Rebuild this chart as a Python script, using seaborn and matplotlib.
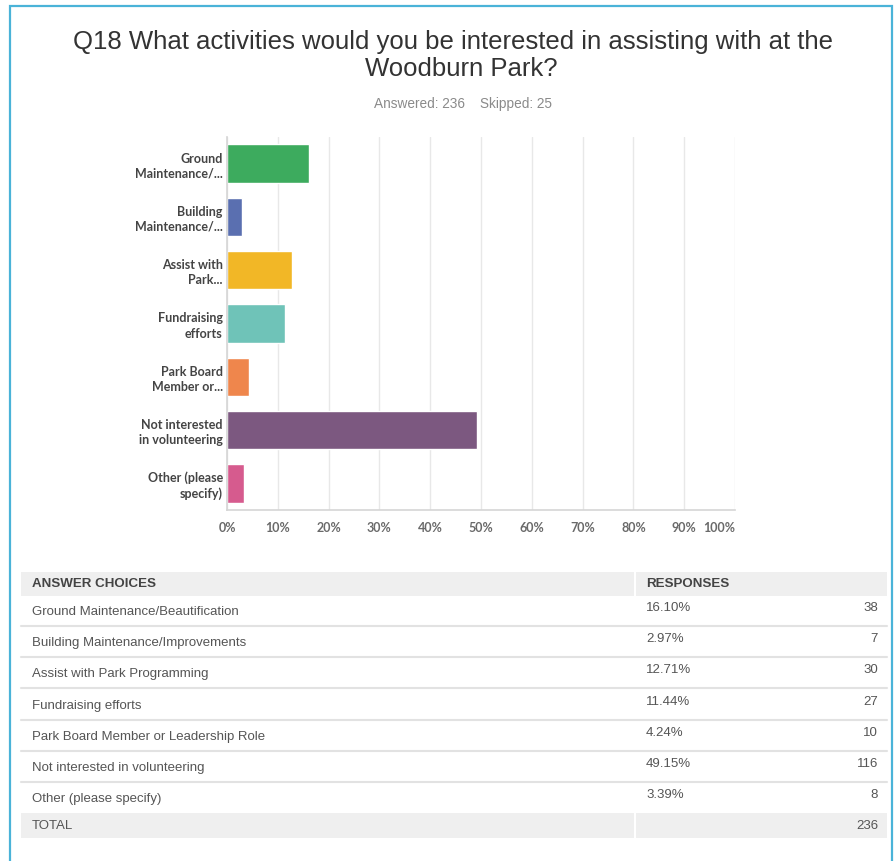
import matplotlib
matplotlib.use("Agg")
import matplotlib.pyplot as plt
import seaborn as sns
import pandas as pd
from matplotlib.patches import Rectangle
from matplotlib.lines import Line2D

# ---------------- data ----------------
categories = ["Ground\nMaintenance/...", "Building\nMaintenance/...", "Assist with\nPark...",
              "Fundraising\nefforts", "Park Board\nMember or...", "Not interested\nin volunteering",
              "Other (please\nspecify)"]
choices = ["Ground Maintenance/Beautification", "Building Maintenance/Improvements",
           "Assist with Park Programming", "Fundraising efforts",
           "Park Board Member or Leadership Role", "Not interested in volunteering",
           "Other (please specify)"]
percents = [16.10, 2.97, 12.71, 11.44, 4.24, 49.15, 3.39]
counts = [38, 7, 30, 27, 10, 116, 8]
total = 236
answered = 236
skipped = 25
colors = ["#3dab5e", "#5a6fb0", "#f2b726", "#6fc3b8", "#ef864c", "#7c5880", "#d65b8e"]
xticks = [0, 10, 20, 30, 40, 50, 60, 70, 80, 90, 100]
title_lines = ["Q18 What activities would you be interested in assisting with at the",
               "Woodburn Park?"]

# ---------------- figure ----------------
sns.set_theme(style="white")
plt.rcParams["font.family"] = ["Liberation Sans", "DejaVu Sans"]

W, H = 896, 861
fig = plt.figure(figsize=(W / 100, H / 100), dpi=100)
fig.patch.set_facecolor("white")

# overlay axes in pixel coordinates
ov = fig.add_axes([0, 0, 1, 1])
ov.set_xlim(0, W)
ov.set_ylim(H, 0)
ov.axis("off")
ov.patch.set_alpha(0)

def fx(x):
    return x / W

def fy(y):
    return 1 - y / H

# blue frame
ov.add_line(Line2D([10, 10, 892, 892], [H, 6, 6, H], color="#4ab3d8", lw=1.6,
                   solid_joinstyle="miter"))

# title
ov.text(453, 49, title_lines[0], ha="center", va="baseline", fontsize=18.5, color="#333333")
ov.text(461, 76, title_lines[1], ha="center", va="baseline", fontsize=18.5, color="#333333")
ov.text(463, 104, f"Answered: {answered}    Skipped: {skipped}", ha="center", va="center",
        fontsize=9.8, color="#8a8a8a")

# ---------------- bar chart ----------------
df = pd.DataFrame({"cat": categories, "pct": percents})
ax = fig.add_axes([fx(227), fy(510), (735 - 227) / W, (510 - 137) / H])
sns.barplot(data=df, x="pct", y="cat", hue="cat", palette=colors, legend=False,
            ax=ax, width=0.72, saturation=1, orient="h")
ax.set_xlim(0, 100)
ax.set_ylim(6.5, -0.5)
ax.set_xlabel("")
ax.set_ylabel("")
ax.set_xticks(xticks)
ax.set_xticklabels([f"{t}%" for t in xticks], family=["Lato", "DejaVu Sans"],
                   fontweight="bold", fontsize=9, color="#6a6a6a")
ax.get_xticklabels()[-1].set_ha("right")
for lab in ax.get_yticklabels():
    lab.set_family(["Lato", "DejaVu Sans"])
    lab.set_fontweight("bold")
    lab.set_fontsize(9)
    lab.set_color("#444444")
    lab.set_linespacing(1.3)
ax.tick_params(axis="x", length=0, pad=9)
ax.tick_params(axis="y", length=0, pad=3)
ax.xaxis.grid(True, color="#e8e8e8", lw=1)
ax.yaxis.grid(False)
ax.set_axisbelow(True)
for s in ["top", "right"]:
    ax.spines[s].set_visible(False)
for s in ["left", "bottom"]:
    ax.spines[s].set_color("#d5d5d5")
    ax.spines[s].set_linewidth(1.2)

# ---------------- table ----------------
gray = "#efefef"
ov.add_patch(Rectangle((21, 572), 612.5, 24, color=gray, lw=0))
ov.add_patch(Rectangle((635.5, 572), 251.5, 24, color=gray, lw=0))
ov.text(32, 584, "ANSWER CHOICES", ha="left", va="center", fontsize=9.6,
        fontweight="bold", color="#444444")
ov.text(646, 584, "RESPONSES", ha="left", va="center", fontsize=9.6,
        fontweight="bold", color="#444444")

row_h = 31.2
first_sep = 626
for i, (c, p, n) in enumerate(zip(choices, percents, counts)):
    sep = first_sep + i * row_h
    ov.text(32, sep - 14, c, ha="left", va="center", fontsize=9.5, color="#555555")
    ov.text(646, sep - 18, f"{p:.2f}%", ha="left", va="center", fontsize=9.5, color="#555555")
    ov.text(878, sep - 18, str(n), ha="right", va="center", fontsize=9.5, color="#555555")
    if i < len(choices) - 1:
        ov.add_line(Line2D([21, 887], [sep, sep], color="#e2e2e2", lw=1.5))

tot_top = first_sep + (len(choices) - 1) * row_h
ov.add_patch(Rectangle((21, tot_top), 612.5, 25, color=gray, lw=0))
ov.add_patch(Rectangle((635.5, tot_top), 251.5, 25, color=gray, lw=0))
ov.text(32, tot_top + 13, "TOTAL", ha="left", va="center", fontsize=9.5, color="#555555")
ov.text(878, tot_top + 13, str(total), ha="right", va="center", fontsize=9.5, color="#555555")

fig.savefig("out.png", dpi=100, facecolor="white")
